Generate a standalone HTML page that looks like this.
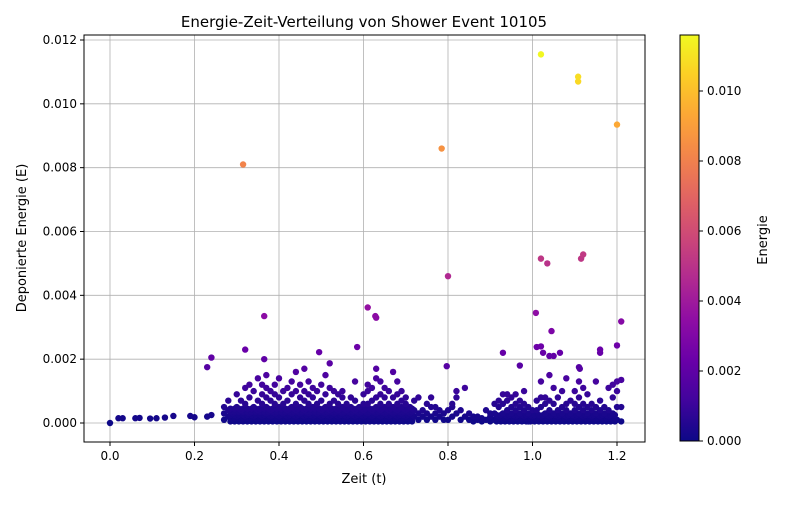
<!DOCTYPE html>
<html><head><meta charset="utf-8"><style>
body{margin:0;background:#fff;font-family:"Liberation Sans","DejaVu Sans",sans-serif}
svg text{font-family:"DejaVu Sans","Liberation Sans",sans-serif;fill:#000}
</style></head><body>
<svg id="chart" width="800" height="500" viewBox="0 0 800 500">
<defs>
<linearGradient id="plasma" x1="0" y1="1" x2="0" y2="0">
<stop offset="0" stop-color="#0d0887"/><stop offset="0.1" stop-color="#41049d"/><stop offset="0.2" stop-color="#6a00a8"/><stop offset="0.3" stop-color="#8f0da4"/><stop offset="0.4" stop-color="#b12a90"/><stop offset="0.5" stop-color="#cc4778"/><stop offset="0.6" stop-color="#e16462"/><stop offset="0.7" stop-color="#f2844b"/><stop offset="0.8" stop-color="#fca636"/><stop offset="0.9" stop-color="#fcce25"/><stop offset="1" stop-color="#f0f921"/>
</linearGradient>
<clipPath id="clip"><rect x="84" y="35" width="561" height="407"/></clipPath>
</defs>
<text x="364" y="27" font-size="15" text-anchor="middle">Energie-Zeit-Verteilung von Shower Event 10105</text>
<g id="grid"></g>
<g id="points" clip-path="url(#clip)"></g>
<rect x="84" y="35" width="561" height="407" fill="none" stroke="#000" stroke-width="1"/>
<g id="axes"></g>
<text x="364" y="483" font-size="13" text-anchor="middle">Zeit (t)</text>
<text transform="translate(26,238) rotate(-90)" font-size="13" text-anchor="middle">Deponierte Energie (E)</text>
<rect x="680" y="35" width="19" height="406" fill="url(#plasma)" stroke="#000" stroke-width="1"/>
<g id="cbar"></g>
<text transform="translate(767,240) rotate(-90)" font-size="13" text-anchor="middle">Energie</text>
</svg>
<script>
const xTicks=[0,0.2,0.4,0.6,0.8,1.0,1.2];
const xTickLabels=["0.0","0.2","0.4","0.6","0.8","1.0","1.2"];
const yTicks=[0,0.002,0.004,0.006,0.008,0.010,0.012];
const yTickLabels=["0.000","0.002","0.004","0.006","0.008","0.010","0.012"];
const cTicks=[0,0.002,0.004,0.006,0.008,0.010];
const cTickLabels=["0.000","0.002","0.004","0.006","0.008","0.010"];
const cMax=0.0116;
// outlier / individual points (time, energy)
const outTimes=[0,0.02,0.03,0.06,0.07,0.095,0.11,0.13,0.15,0.19,0.2,0.23,0.24,0.315,0.785,1.02,1.108,1.108,1.2,0.8,1.02,1.035,1.115,1.12,0.61,0.628,0.63,0.365,1.008,1.21,1.045,0.585,0.32,0.24,0.365,0.495,0.23,0.52,0.797,0.93,0.97,1.01,1.02,1.025,1.04,1.05,1.065,1.2,1.16,1.16,1.11,1.112];
const outEnergies=[0,0.00015,0.00015,0.00015,0.00016,0.00014,0.00015,0.00017,0.00022,0.00022,0.00018,0.0002,0.00025,0.0081,0.0086,0.01155,0.01085,0.0107,0.00935,0.0046,0.00515,0.005,0.00515,0.00528,0.00362,0.00335,0.0033,0.00335,0.00345,0.00318,0.00288,0.00238,0.0023,0.00205,0.002,0.00222,0.00175,0.00187,0.00178,0.0022,0.0018,0.00238,0.0024,0.0022,0.0021,0.0021,0.0022,0.00243,0.0022,0.0023,0.00175,0.0017];
// dense band: times and energies (in units of 1e-3)
const bandTimes=[0.27,0.28,0.29,0.3,0.31,0.32,0.33,0.34,0.35,0.36,0.37,0.38,0.39,0.4,0.41,0.42,0.43,0.44,0.45,0.46,0.47,0.48,0.49,0.5,0.51,0.52,0.53,0.54,0.55,0.56,0.57,0.58,0.59,0.6,0.61,0.62,0.63,0.64,0.65,0.66,0.67,0.68,0.69,0.7,0.71,0.72,0.73,0.74,0.75,0.76,0.77,0.78,0.79,0.8,0.81,0.82,0.83,0.84,0.85,0.86,0.87,0.88,0.89,0.9,0.91,0.92,0.93,0.94,0.95,0.96,0.97,0.98,0.99,1.0,1.01,1.02,1.03,1.04,1.05,1.06,1.07,1.08,1.09,1.1,1.11,1.12,1.13,1.14,1.15,1.16,1.17,1.18,1.19,1.2,1.21];
const bandEnergiesMilli=[[0.1,0.3,0.5],[0.2,0.4,0.7],[0.1,0.3],[0.2,0.5,0.9],[0.1,0.4,0.7],[0.2,0.6,1.1],[0.1,0.3,0.8,1.2],[0.2,0.5,1.0],[0.1,0.4,0.7,1.4],[0.2,0.6,0.9,1.2],[0.1,0.3,0.5,0.8,1.1,1.5],[0.2,0.4,0.7,1.0],[0.1,0.3,0.6,0.9,1.2],[0.2,0.5,0.8,1.4],[0.1,0.3,0.6,1.0],[0.2,0.4,0.7,1.1],[0.1,0.3,0.5,0.9,1.3],[0.2,0.4,0.6,1.0,1.6],[0.1,0.3,0.5,0.8,1.2],[0.2,0.4,0.7,1.0,1.7],[0.1,0.3,0.6,0.9,1.3],[0.2,0.5,0.8,1.1],[0.1,0.3,0.6,1.0],[0.2,0.4,0.7,1.2],[0.1,0.3,0.5,0.9,1.5],[0.2,0.4,0.6,1.1],[0.1,0.3,0.7,1.0],[0.2,0.4,0.6,0.9],[0.1,0.3,0.5,0.8,1.0],[0.2,0.4,0.6],[0.1,0.3,0.5,0.8],[0.2,0.4,0.7,1.3],[0.1,0.3,0.5],[0.2,0.4,0.6,0.9],[0.1,0.3,0.6,1.0,1.2],[0.2,0.4,0.7,1.1],[0.1,0.3,0.5,0.8,1.4,1.7],[0.2,0.4,0.6,0.9,1.3],[0.1,0.3,0.5,0.8,1.1],[0.2,0.4,0.6,1.0],[0.1,0.3,0.5,0.8,1.6],[0.2,0.4,0.6,0.9,1.3],[0.1,0.3,0.5,0.7,1.0],[0.2,0.4,0.6,0.8],[0.1,0.3,0.5],[0.2,0.4,0.7],[0.1,0.3,0.8],[0.2,0.4],[0.1,0.3,0.6],[0.2,0.5,0.8],[0.1,0.3,0.5],[0.2,0.4],[0.1,0.3],[0.1,0.4],[0.2,0.5,0.6],[0.3,0.8,1.0],[0.1,0.4],[0.2,1.1],[0.1,0.3],[0.05,0.2],[0.1,0.2],[0.05,0.15],[0.1,0.4],[0.05,0.3,0.2],[0.1,0.3,0.6],[0.2,0.5,0.7],[0.1,0.3,0.6,0.9],[0.2,0.4,0.7,0.9],[0.1,0.3,0.5,0.8],[0.2,0.4,0.6,0.9],[0.1,0.3,0.5,0.7],[0.2,0.4,0.6,1.0],[0.05,0.3,0.5],[0.1,0.2,0.4],[0.1,0.4,0.7],[0.2,0.5,0.8,1.3],[0.1,0.3,0.6,0.8],[0.2,0.4,0.7,1.5],[0.1,0.3,0.6,1.1],[0.2,0.4,0.8],[0.1,0.3,0.5,1.0],[0.2,0.4,0.6,1.4],[0.1,0.3,0.7],[0.2,0.4,0.6,1.0],[0.1,0.3,0.5,0.8,1.3],[0.2,0.4,0.6,1.1],[0.1,0.3,0.5,0.9],[0.2,0.4,0.6],[0.1,0.3,0.5,1.3],[0.2,0.4,0.7],[0.1,0.3,0.5],[0.2,0.4,1.1],[0.1,0.3,0.8,1.2],[0.1,0.5,1.0,1.3],[0.05,0.5,1.35]];
// extra low-energy fill for the densest parts (units of 1e-3)
const bandFillDense=[0.05,0.15,0.25,0.35,0.45];
const bandFillSparse=[0.05,0.15,0.25];

const NS="http://www.w3.org/2000/svg";
const X0=84,X1=645,Y0=35,Y1=442;
function xScale(t){return 110+t*(617-110)/1.2;}
function yScale(e){return 423-e*(423-40)/0.012;}
function cScale(e){return 441-e*(441-35)/cMax;}
const stops=["#0d0887","#41049d","#6a00a8","#8f0da4","#b12a90","#cc4778","#e16462","#f2844b","#fca636","#fcce25","#f0f921"];
function hex(h){return [1,3,5].map(i=>parseInt(h.substr(i,2),16));}
function plasma(v){v=Math.max(0,Math.min(1,v));const p=v*10,i=Math.min(9,Math.floor(p)),f=p-i;const a=hex(stops[i]),b=hex(stops[i+1]);return "rgb("+a.map((c,k)=>Math.round(c+(b[k]-c)*f)).join(",")+")";}
function mk(tag,attrs,parent){const el=document.createElementNS(NS,tag);for(const k in attrs)el.setAttribute(k,attrs[k]);parent.appendChild(el);return el;}
const grid=document.getElementById("grid"),axes=document.getElementById("axes"),pts=document.getElementById("points"),cbar=document.getElementById("cbar");
xTicks.forEach((t,i)=>{const x=xScale(t);
 let g=mk("line",{x1:x,x2:x,y1:Y0,y2:Y1,stroke:"#b0b0b0","stroke-width":0.8},grid);
 
 
 let tk=mk("line",{x1:x,x2:x,y1:Y1,y2:Y1+4,stroke:"#000"},axes);
 
 
 let tx=mk("text",{x:x,y:Y1+18,"font-size":12,"text-anchor":"middle"},axes);tx.textContent=xTickLabels[i];
 
 
});
yTicks.forEach((e,i)=>{const y=yScale(e);
 let g=mk("line",{x1:X0,x2:X1,y1:y,y2:y,stroke:"#b0b0b0","stroke-width":0.8},grid);
 
 
 let tk=mk("line",{x1:X0-4,x2:X0,y1:y,y2:y,stroke:"#000"},axes);
 
 
 let tx=mk("text",{x:X0-7,y:y+4,"font-size":12,"text-anchor":"end"},axes);tx.textContent=yTickLabels[i];
 
 
});
cTicks.forEach((e,i)=>{const y=cScale(e);
 let tk=mk("line",{x1:699,x2:703,y1:y,y2:y,stroke:"#000"},cbar);
 
 
 let tx=mk("text",{x:707,y:y+4,"font-size":12},cbar);tx.textContent=cTickLabels[i];
 
 
});
const all=[];
bandTimes.forEach((t,i)=>{
 if(t>=0.28&&t<=0.71)bandFillDense.forEach(m=>all.push([t+0.005,m/1000]));
 else if(t>=0.91&&t<=1.19)bandFillSparse.forEach(m=>all.push([t+0.005,m/1000]));
 bandEnergiesMilli[i].forEach(m=>all.push([t,m/1000]));
});
outTimes.forEach((t,i)=>all.push([t,outEnergies[i]]));
all.sort((a,b)=>a[1]-b[1]);
all.forEach(p=>{
 const c=mk("circle",{cx:xScale(p[0]),cy:yScale(p[1]),r:3.2,fill:plasma(p[1]/cMax)},pts);
 
 
});
</script>
</body></html>
